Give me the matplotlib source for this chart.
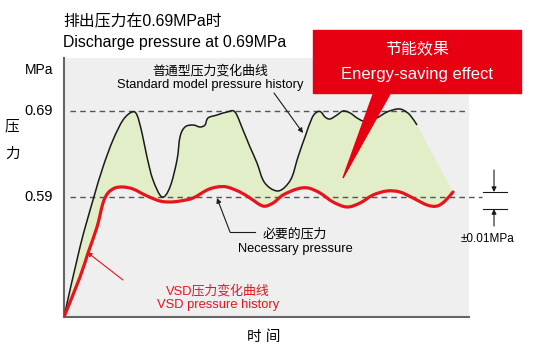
import numpy as np
import matplotlib.pyplot as plt
from matplotlib.patches import Rectangle, Polygon, PathPatch
from matplotlib.path import Path

plt.rcParams['font.family'] = ['Liberation Sans', 'Noto Sans CJK SC', 'DejaVu Sans']

# standard model pressure history (time in arbitrary units, MPa)
std_t = [0, 16, 29, 39, 49, 59, 68, 73, 78, 83, 89, 98, 106, 113, 116, 121, 129, 136,
         141, 144, 153, 163, 171, 179, 186, 193, 199, 206, 214, 221, 228, 234, 241,
         248, 253, 257, 261, 266, 273, 279, 286, 293, 299, 306, 313, 323, 333, 339,
         346, 353]
std_p = [0.4505, 0.5319, 0.5865, 0.6249, 0.6563, 0.6795, 0.6888, 0.6853, 0.6644,
         0.6365, 0.6098, 0.59, 0.6016, 0.633, 0.6598, 0.6714, 0.6737, 0.6714, 0.6737,
         0.6819, 0.6853, 0.6888, 0.6888, 0.6679, 0.6481, 0.6295, 0.6098, 0.6005, 0.597,
         0.6016, 0.6133, 0.6365, 0.6598, 0.6819, 0.6888, 0.6888, 0.683, 0.6807, 0.6853,
         0.69, 0.6877, 0.6819, 0.6784, 0.6784, 0.6819, 0.6888, 0.6923, 0.6912, 0.6853,
         0.6737]

# VSD pressure history
vsd_t = [0, 16, 24, 33, 39, 44, 51, 59, 69, 83, 96, 106, 116, 129, 143, 153, 163, 176,
         186, 199, 209, 219, 233, 244, 256, 269, 283, 296, 309, 323, 336, 349, 363, 373,
         381, 389]
vsd_p = [0.4505, 0.497, 0.5249, 0.5551, 0.583, 0.5947, 0.6005, 0.6016, 0.5993, 0.5912,
         0.5853, 0.5842, 0.5853, 0.5888, 0.5981, 0.6016, 0.6016, 0.5958, 0.5888, 0.5795,
         0.583, 0.5923, 0.5993, 0.6005, 0.5947, 0.5842, 0.5784, 0.583, 0.5923, 0.597,
         0.5958, 0.5888, 0.5807, 0.5795, 0.5853, 0.5958]

levels = [0.69, 0.59]
level_labels = ['0.69', '0.59']

W, H = 535, 352
fig = plt.figure(figsize=(W / 100, H / 100), dpi=100)
ax = fig.add_axes([64 / W, 1 - 317 / H, 405 / W, 259 / H])
ax.set_facecolor('#efefef')
ax.set_xlim(0, 405)
ax.set_ylim(0.4505, 0.7516)
ax.set_xticks([])
ax.set_yticks([])
for s in ['top', 'right']:
    ax.spines[s].set_visible(False)
for s in ['left', 'bottom']:
    ax.spines[s].set_color('#666666')
    ax.spines[s].set_linewidth(1.5)


def fx(x):
    return x / W


def fy(y):
    return 1 - y / H


def smooth(t, p):
    # cubic bezier segments through the points (catmull-rom handles)
    pts = np.column_stack([t, p])
    verts = [pts[0]]
    for i in range(len(pts) - 1):
        a = pts[i - 1] if i > 0 else pts[i]
        b = pts[i + 2] if i + 2 < len(pts) else pts[i + 1]
        verts.append(pts[i] + (pts[i + 1] - a) / 6)
        verts.append(pts[i + 1] - (b - pts[i]) / 6)
        verts.append(pts[i + 1])
    return np.array(verts)


arrow_k = dict(arrowstyle='-|>', lw=0.8, mutation_scale=7, shrinkA=0, shrinkB=0)

std_v = smooth(std_t, std_p)
vsd_v = smooth(vsd_t, vsd_p)

# energy-saving area: standard curve, straight drop to the VSD end, VSD curve back
area_v = np.vstack([std_v, vsd_v[-1:], vsd_v[::-1][1:]])
area_c = ([Path.MOVETO] + [Path.CURVE4] * (len(std_v) - 1) + [Path.LINETO]
          + [Path.CURVE4] * (len(vsd_v) - 1))
ax.add_patch(PathPatch(Path(area_v, area_c), facecolor='#e2eec8', lw=0, zorder=1))

ax.plot([6, 405], [levels[0]] * 2, ls=(0, (4, 3)), color='#555555', lw=1, zorder=2)
ax.plot([6, 418], [levels[1]] * 2, ls=(0, (4, 3)), color='#555555', lw=1, zorder=2,
        clip_on=False)

std_c = [Path.MOVETO] + [Path.CURVE4] * (len(std_v) - 1)
vsd_c = [Path.MOVETO] + [Path.CURVE4] * (len(vsd_v) - 1)
ax.add_patch(PathPatch(Path(std_v, std_c), fill=False, edgecolor='#1a1a1a', lw=1.1,
                       zorder=3))
ax.add_patch(PathPatch(Path(vsd_v, vsd_c), fill=False, edgecolor='#e8141c', lw=2.3,
                       zorder=4, capstyle='round'))

for lv, lb in zip(levels, level_labels):
    ax.text(-11, lv, lb, ha='right', va='center', fontsize=10.5)

fig.text(fx(53), fy(70), 'MPa', ha='right', va='center', fontsize=10)
fig.text(fx(5), fy(126), '压', ha='left', va='center', fontsize=10.5)
fig.text(fx(5), fy(154), '力', ha='left', va='center', fontsize=10.5)
fig.text(fx(264), fy(337), '时 间', ha='center', va='center', fontsize=10.5)

fig.text(fx(63), fy(22), '排出压力在0.69MPa时', ha='left', va='center', fontsize=11.4)
fig.text(fx(63), fy(42), 'Discharge pressure at 0.69MPa', ha='left', va='center',
         fontsize=11.4)

# standard curve label
fig.text(fx(210), fy(71), '普通型压力变化曲线', ha='center', va='center', fontsize=9.3)
fig.text(fx(210), fy(85), 'Standard model pressure history', ha='center', va='center',
         fontsize=9.3)
ax.annotate('', xy=(239, 0.6644), xytext=(210, 0.7109),
            arrowprops=dict(color='#1a1a1a', **arrow_k), zorder=5)

# necessary pressure label
ax.plot([166, 191], [0.5493, 0.5493], color='#1a1a1a', lw=0.8, zorder=5)
ax.annotate('', xy=(153, 0.5888), xytext=(166, 0.5493),
            arrowprops=dict(color='#1a1a1a', **arrow_k), zorder=5)
fig.text(fx(295), fy(234), '必要的压力', ha='center', va='center', fontsize=9.3)
fig.text(fx(295), fy(249), 'Necessary pressure', ha='center', va='center', fontsize=9.3)

# VSD label
ax.annotate('', xy=(23, 0.526), xytext=(59, 0.4935),
            arrowprops=dict(color='#e8141c', **arrow_k), zorder=5)
fig.text(fx(218), fy(291), 'VSD压力变化曲线', ha='center', va='center', fontsize=9.3,
         color='#e8141c')
fig.text(fx(218), fy(305), 'VSD pressure history', ha='center', va='center',
         fontsize=9.3, color='#e8141c')

# +-0.01 MPa marker
ax.plot([419, 443], [0.5958, 0.5958], color='#1a1a1a', lw=0.8, clip_on=False)
ax.plot([419, 443], [0.576, 0.576], color='#1a1a1a', lw=0.8, clip_on=False)
ax.annotate('', xy=(430, 0.5958), xytext=(430, 0.6214), annotation_clip=False,
            arrowprops=dict(color='#1a1a1a', **arrow_k))
ax.annotate('', xy=(430, 0.576), xytext=(430, 0.5563), annotation_clip=False,
            arrowprops=dict(color='#1a1a1a', **arrow_k))
fig.text(fx(488), fy(239), '±0.01MPa', ha='center', va='center', fontsize=8.5)

# energy-saving callout
box_red = '#e60012'
fig.patches.append(Rectangle((fx(313), fy(93)), (521 - 313) / W, (93 - 30) / H,
                             transform=fig.transFigure, color=box_red, zorder=10))
fig.patches.append(Polygon([(fx(374), fy(92)), (fx(391), fy(92)), (fx(343), fy(178))],
                           closed=True, transform=fig.transFigure, color=box_red,
                           zorder=10))
fig.text(fx(417), fy(49), '节能效果', ha='center', va='center', fontsize=11.5,
         color='white', zorder=11)
fig.text(fx(417), fy(75), 'Energy-saving effect', ha='center', va='center',
         fontsize=12, color='white', zorder=11)

fig.savefig('out.png', dpi=100)
